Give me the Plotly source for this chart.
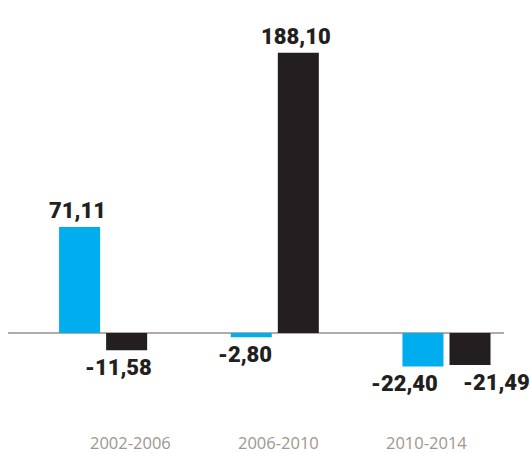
import plotly.graph_objects as go

periods = ["2002-2006", "2006-2010", "2010-2014"]
series_a = [71.11, -2.80, -22.40]
series_b = [-11.58, 188.10, -21.49]

BLUE = "#00adef"
BLACK = "#231f20"
LABEL_FONT = dict(family="Roboto", size=22, color="#231f20", weight=900)


def fmt(v):
    return f"{v:.2f}".replace(".", ",")


fig = go.Figure()
fig.add_trace(go.Bar(x=periods, y=series_a, marker=dict(color=BLUE, line=dict(width=0)),
                     hoverinfo="skip", showlegend=False))
fig.add_trace(go.Bar(x=periods, y=series_b, marker=dict(color=BLACK, line=dict(width=0)),
                     hoverinfo="skip", showlegend=False))

bargap = 0.452
half = (1 - bargap) / 4
shifts_a = [-2, -6, -18]
shifts_b = [-8, -2, 26]
annotations = []
for i, (va, vb) in enumerate(zip(series_a, series_b)):
    for v, off, xs in ((va, -half, shifts_a[i]), (vb, half, shifts_b[i])):
        pos = v >= 0
        annotations.append(dict(
            x=i + off, y=v, xref="x", yref="y", text=fmt(v),
            showarrow=False, font=LABEL_FONT, xanchor="center",
            yanchor="bottom" if pos else "top",
            xshift=xs, yshift=2 if pos else -3,
        ))

# period labels, evenly spaced below the chart
lab_left, lab_step = 0.2460, 0.2984
for i, p in enumerate(periods):
    annotations.append(dict(
        x=lab_left + i * lab_step, y=0, xref="paper", yref="paper",
        text=p, showarrow=False, xanchor="center", yanchor="top", yshift=1,
        font=dict(family="Open Sans", size=16.5, color="#a0968e"),
    ))

fig.update_layout(
    width=530, height=453,
    margin=dict(l=8, r=26, t=20, b=23),
    paper_bgcolor="white", plot_bgcolor="white",
    barmode="group", bargap=bargap, bargroupgap=0.128,
    xaxis=dict(type="category", range=[-0.554, 2.335], showticklabels=False,
               showgrid=False, zeroline=False, showline=False, ticks=""),
    yaxis=dict(range=[-65.1, 210.1], showticklabels=False, showgrid=False,
               zeroline=True, zerolinecolor="#b3aba4", zerolinewidth=1.5,
               showline=False, ticks=""),
    annotations=annotations,
)

fig.write_html("out.html")
